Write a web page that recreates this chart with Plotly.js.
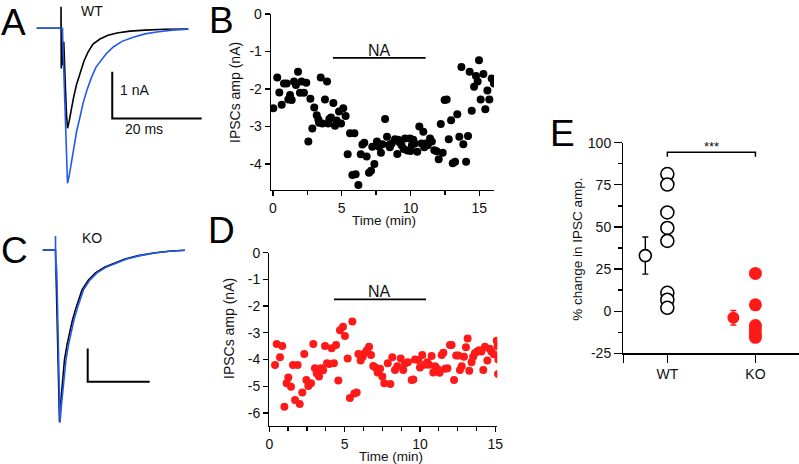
<!DOCTYPE html>
<html>
<head>
<meta charset="utf-8">
<script src="https://cdn.plot.ly/plotly-3.0.1.min.js"></script>
<style>
html,body{margin:0;padding:0;background:#fff;}
#fig{width:799px;height:464px;}
</style>
</head>
<body>
<div id="fig"></div>
<script>
var W=799, H=464;
var FONT='Liberation Sans, Arial, Helvetica, sans-serif';

// A: WT example IPSCs (ms, nA), black = control, blue = NA
var aTimeCtrl=[0,5.44,5.44,5.50,5.70,5.88,6.06,6.26,6.44,6.67,6.89,7.23,7.67,8.23,8.90,9.69,10.58,11.48,12.60,14.16,15.95,17.96,20.87,24.23,28.70,33.92];
var aCurCtrl=[0,0,0.46,-0.86,-0.25,-0.79,-0.29,-0.68,-1.32,-1.86,-2.14,-2.01,-1.75,-1.49,-1.21,-0.96,-0.70,-0.51,-0.34,-0.23,-0.15,-0.10,-0.06,-0.04,-0.02,-0.015];
var aTimeNA=[0,5.44,5.77,5.82,6.0,6.22,6.44,6.67,6.89,7.23,7.67,8.23,8.95,9.69,10.43,11.25,12.30,13.27,14.16,15.50,17.14,19.08,21.61,24.23,26.85,30.27,33.91];
var aCurNA=[0,0,0,-0.21,-0.68,-1.43,-2.18,-2.82,-3.32,-3.18,-2.93,-2.61,-2.20,-1.90,-1.58,-1.32,-1.04,-0.83,-0.72,-0.55,-0.40,-0.28,-0.19,-0.12,-0.08,-0.04,-0.02];

// C: KO example IPSCs
var cTimeCtrl=[0,4.13,4.29,5.10,5.42,5.90,6.39,7.03,7.84,8.65,9.61,10.74,12.68,14.77,17.03,20.10,23.16,26.55,30.90,35.74,40.58,45.90];
var cCurCtrl=[0,0,-0.60,-3.90,-5.17,-4.50,-3.96,-3.30,-2.85,-2.49,-2.10,-1.74,-1.20,-0.90,-0.69,-0.51,-0.39,-0.27,-0.17,-0.09,-0.04,-0.01];
var cTimeNA=[0,4.13,4.13,4.19,4.35,4.55,4.94,5.26,5.58,6.06,6.71,7.52,8.32,9.13,10.10,11.23,13.16,15.26,17.52,20.65,23.65,27.10,31.39,36.23,41.06,45.90];
var cCurNA=[0,0,0.42,-0.65,-0.36,-0.66,-2.40,-4.05,-5.19,-4.65,-3.99,-3.30,-2.85,-2.49,-2.10,-1.74,-1.20,-0.90,-0.69,-0.51,-0.39,-0.27,-0.17,-0.09,-0.04,-0.01];

// scale bars
var scaleMs=20, scaleNa=1;
var aBarCorner=[16.9,-1.93];
var cBarCorner=[14.52,-3.96];

// B: WT IPSC amplitude over time
var bTime=[0.02,0.31,0.46,0.63,0.8,1.0,1.11,1.24,1.36,1.53,
  1.67,1.82,1.96,2.08,2.25,2.42,2.57,2.72,2.86,3.0,
  3.18,3.3,3.35,3.47,3.59,3.78,3.93,4.02,4.1,4.22,
  4.39,4.51,4.63,4.8,4.95,5.11,5.28,5.43,5.6,5.77,
  5.92,6.01,6.21,6.38,6.5,6.64,6.81,6.98,7.13,7.22,
  7.37,7.56,7.71,7.85,7.95,8.15,8.29,8.44,8.5,8.63,
  8.87,9.04,9.1,9.2,9.35,9.5,9.6,9.77,9.96,10.0,
  10.1,10.2,10.3,10.49,10.64,10.8,10.93,11.0,11.1,11.25,
  11.42,11.55,11.73,11.9,12.05,12.2,12.34,12.48,12.63,12.78,
  12.95,13.07,13.24,13.4,13.55,13.7,13.84,14.04,14.18,14.3,
  14.45,14.62,14.76,14.88,14.98,15.1,15.3,15.44,15.59,15.73,
  15.9,16.07];
var bAmp=[-2.51,-1.69,-2.09,-2.42,-1.85,-1.85,-2.28,-2.16,-2.29,-1.80,
  -1.89,-1.54,-2.10,-1.80,-2.10,-1.83,-3.40,-2.26,-3.05,-2.49,
  -2.70,-2.81,-2.9,-1.69,-2.92,-2.28,-1.80,-2.92,-2.8,-2.76,
  -2.37,-2.98,-2.84,-2.6,-2.92,-2.51,-2.72,-3.74,-3.18,-4.29,
  -3.18,-4.27,-4.56,-3.74,-3.48,-3.43,-3.80,-4.23,-4.18,-3.54,
  -4.0,-3.40,-3.54,-3.70,-3.47,-2.8,-3.27,-3.49,-3.55,-3.45,
  -3.34,-3.73,-3.35,-3.42,-3.5,-3.6,-3.32,-3.64,-3.32,-3.65,
  -3.5,-3.35,-3.45,-3.67,-3.0,-3.45,-3.14,-3.55,-3.45,-3.5,
  -3.32,-3.4,-3.63,-3.66,-3.87,-2.93,-3.70,-2.29,-2.28,-3.34,
  -2.83,-3.98,-3.94,-2.67,-3.27,-1.41,-3.47,-3.94,-3.25,-1.54,
  -2.58,-1.94,-1.65,-1.80,-1.23,-2.28,-1.6,-2.54,-2.04,-2.28,
  -1.72,-1.85];
var bNA=[4.36,11.1], bNALevel=-1.17;

// D: KO IPSC amplitude over time
var dTime=[0.38,0.49,0.71,0.86,1.0,1.15,1.26,1.44,1.57,1.71,
  1.88,2.02,2.19,2.32,2.46,2.59,2.77,2.92,3.03,3.15,
  3.3,3.43,3.57,3.7,3.83,3.97,4.14,4.29,4.43,4.58,
  4.69,4.89,5.02,5.2,5.35,5.51,5.64,5.8,5.91,6.06,
  6.2,6.35,6.48,6.62,6.75,6.9,7.05,7.19,7.35,7.5,
  7.63,7.86,8.03,8.16,8.34,8.5,8.72,8.89,9.0,9.2,
  9.45,9.56,9.67,9.89,10.0,10.15,10.32,10.48,10.6,10.77,
  10.88,11.0,11.15,11.3,11.44,11.55,11.66,11.82,11.99,12.1,
  12.26,12.4,12.55,12.65,12.77,12.92,13.05,13.16,13.27,13.42,
  13.53,13.64,13.8,13.93,14.08,14.2,14.31,14.47,14.62,14.73,
  14.9,15.09,15.15,15.2,15.18];
var dAmp=[-4.21,-3.42,-3.92,-3.49,-5.77,-4.89,-4.67,-5.02,-4.21,-5.52,
  -4.21,-5.67,-5.24,-3.79,-4.77,-4.99,-4.89,-3.42,-4.33,-4.52,
  -4.64,-4.33,-4.4,-3.49,-4.14,-4.17,-3.58,-4.14,-3.46,-4.79,
  -2.9,-2.77,-3.12,-3.96,-5.44,-2.58,-5.27,-5.24,-3.79,-4.04,
  -3.9,-3.75,-3.65,-3.52,-3.83,-4.24,-4.3,-4.49,-4.35,-4.64,
  -4.89,-4.14,-4.92,-3.92,-4.39,-4.25,-3.96,-4.39,-4.15,-4.1,
  -4.77,-4.75,-4.0,-4.02,-4.3,-3.83,-4.2,-4.1,-4.2,-3.87,
  -4.49,-4.25,-4.35,-4.5,-3.83,-3.75,-4.35,-4.33,-3.46,-3.46,
  -4.77,-3.85,-3.85,-4.39,-4.25,-3.9,-3.54,-3.21,-4.42,-4.1,
  -3.9,-3.77,-3.7,-3.65,-3.7,-4.39,-3.52,-4.04,-3.6,-3.7,
  -3.8,-3.3,-3.5,-4.0,-4.54];
var dNA=[4.29,10.4], dNALevel=-1.75;

// E: % change in IPSC amplitude
var groups=['WT','KO'];
var groupPos=[1,3], meanPos=[0.5,2.5];
var wtPct=[81.4,75.2,58.6,49.4,41.7,10.9,6.8,2.0];
var koPct=[22.4,3.8,-8.5,-11,-13.5,-15.5];
var meanPct=[33,-3.9];
var semPct=[11,4.3];
var sigY=94.3, sigDrop=2.6;

var BLUE='#2459f0', RED='#ff1a1a';

function hx(a,b){return [a/W,b/W];}
function vy(top,bottom){return [1-bottom/H,1-top/H];}
function px(x){return x/W;}
function py(y){return 1-y/H;}
function rep(v,n){var a=[];for(var i=0;i<n;i++)a.push(v);return a;}

function plotAxis(extra){
  var ax={showline:true,linecolor:'#000',linewidth:1.3,ticks:'outside',ticklen:5,tickwidth:1.3,
    tickcolor:'#000',showgrid:false,zeroline:false,fixedrange:true,
    tickfont:{family:FONT,size:14,color:'#111'}};
  for(var k in extra) ax[k]=extra[k];
  return ax;
}
function hiddenAxis(extra){
  var ax={visible:false,fixedrange:true,showgrid:false,zeroline:false};
  for(var k in extra) ax[k]=extra[k];
  return ax;
}

var data=[
  // A
  {x:aTimeCtrl,y:aCurCtrl,xaxis:'x',yaxis:'y',mode:'lines',line:{color:'#000',width:1.6}},
  {x:aTimeNA,y:aCurNA,xaxis:'x',yaxis:'y',mode:'lines',line:{color:BLUE,width:1.6}},
  {x:[aBarCorner[0],aBarCorner[0],aBarCorner[0]+scaleMs],y:[aBarCorner[1]+scaleNa,aBarCorner[1],aBarCorner[1]],
    xaxis:'x',yaxis:'y',mode:'lines',line:{color:'#000',width:2}},
  // C
  {x:cTimeCtrl,y:cCurCtrl,xaxis:'x2',yaxis:'y2',mode:'lines',line:{color:'#000',width:1.6}},
  {x:cTimeNA,y:cCurNA,xaxis:'x2',yaxis:'y2',mode:'lines',line:{color:BLUE,width:1.6}},
  {x:[cBarCorner[0],cBarCorner[0],cBarCorner[0]+scaleMs],y:[cBarCorner[1]+scaleNa,cBarCorner[1],cBarCorner[1]],
    xaxis:'x2',yaxis:'y2',mode:'lines',line:{color:'#000',width:2}},
  // B
  {x:bTime,y:bAmp,xaxis:'x3',yaxis:'y3',mode:'markers',marker:{color:'#000',size:8}},
  {x:bNA,y:[bNALevel,bNALevel],xaxis:'x3',yaxis:'y3',mode:'lines',line:{color:'#000',width:1.8}},
  // D
  {x:dTime,y:dAmp,xaxis:'x4',yaxis:'y4',mode:'markers',marker:{color:RED,size:8}},
  {x:dNA,y:[dNALevel,dNALevel],xaxis:'x4',yaxis:'y4',mode:'lines',line:{color:'#000',width:1.8}},
  // E
  {x:rep(groupPos[0],wtPct.length),y:wtPct,xaxis:'x5',yaxis:'y5',mode:'markers',
    marker:{color:'#fff',size:13,line:{color:'#000',width:1.6}}},
  {x:rep(groupPos[1],koPct.length),y:koPct,xaxis:'x5',yaxis:'y5',mode:'markers',
    marker:{color:RED,size:13}},
  {x:[meanPos[0]],y:[meanPct[0]],xaxis:'x5',yaxis:'y5',mode:'markers',
    error_y:{type:'data',array:[semPct[0]],color:'#000',thickness:1.4,width:3},
    marker:{color:'#fff',size:12,line:{color:'#000',width:1.6}}},
  {x:[meanPos[1]],y:[meanPct[1]],xaxis:'x5',yaxis:'y5',mode:'markers',
    error_y:{type:'data',array:[semPct[1]],color:RED,thickness:1.4,width:3},
    marker:{color:RED,size:12}},
  {x:[groupPos[0],groupPos[0],groupPos[1],groupPos[1]],y:[sigY-sigDrop,sigY,sigY,sigY-sigDrop],
    xaxis:'x5',yaxis:'y5',mode:'lines',line:{color:'#000',width:1.5}}
];

function letter(t,x,y){
  return {text:t,xref:'paper',yref:'paper',x:px(x),y:py(y),xanchor:'center',yanchor:'middle',
    showarrow:false,font:{family:FONT,size:37,color:'#000'}};
}
function label(t,xr,yr,x,y,size,extra){
  var a={text:t,xref:xr,yref:yr,x:x,y:y,xanchor:'center',yanchor:'middle',showarrow:false,
    font:{family:FONT,size:size,color:'#111'}};
  for(var k in extra) a[k]=extra[k];
  return a;
}

var annotations=[
  letter('A',13.5,22), letter('B',221.5,20), letter('C',14.5,250), letter('D',221,231), letter('E',562.5,133),
  label('WT','x','y',12.3,0.36,14),
  label('1 nA','x','y',21.9,-1.33,14),
  label('20 ms','x','y',24.0,-2.15,14),
  label('KO','x2','y2',15.9,0.36,14),
  label('NA','x3','y3',(bNA[0]+bNA[1])/2,bNALevel,16,{yanchor:'bottom',yshift:-3}),
  label('NA','x4','y4',(dNA[0]+dNA[1])/2,dNALevel,16,{yanchor:'bottom',yshift:-3}),
  label('***','x5','y5',(groupPos[0]+groupPos[1])/2,sigY,13,{yanchor:'bottom',yshift:-4}),
  label('IPSCs amp (nA)','paper','paper',px(235),py(93),14,{textangle:-90}),
  label('Time (min)','paper','paper',px(384),py(220),13.5),
  label('IPSCs amp (nA)','paper','paper',px(228.3),py(328.7),14,{textangle:-90}),
  label('Time (min)','paper','paper',px(391),py(456.5),13.5),
  label('% change in IPSC amp.','paper','paper',px(576.7),py(249),13.5,{textangle:-90})
];

var layout={
  width:W,height:H,margin:{l:0,r:0,t:0,b:0},
  paper_bgcolor:'#fff',plot_bgcolor:'rgba(0,0,0,0)',showlegend:false,
  font:{family:FONT,color:'#111'},
  xaxis:hiddenAxis({domain:hx(0,210),range:[-8.21,38.77],anchor:'y'}),
  yaxis:hiddenAxis({domain:vy(0,200),range:[-3.677,0.606],anchor:'x'}),
  xaxis2:hiddenAxis({domain:hx(0,210),range:[-13.77,53.97],anchor:'y2'}),
  yaxis2:hiddenAxis({domain:vy(225,440),range:[-5.71,0.75],anchor:'x2'}),
  xaxis3:plotAxis({domain:hx(271,494),range:[-0.145,16.07],anchor:'y3',tickmode:'array',
    tickvals:[0,5,10,15],ticktext:['0','5','10','15'],
    minor:{tickmode:'array',tickvals:[2.5,7.5,12.5],ticks:'outside',ticklen:4,tickwidth:1.3,tickcolor:'#000'}}),
  yaxis3:plotAxis({domain:vy(14,190),range:[-4.69,0],anchor:'x3',tickmode:'array',
    tickvals:[0,-1,-2,-3,-4],ticktext:['0','-1','-2','-3','-4']}),
  xaxis4:plotAxis({domain:hx(269.3,497.3),range:[0,15.13],anchor:'y4',tickmode:'array',
    tickvals:[0,5,10,15],ticktext:['0','5','10','15'],
    minor:{tickmode:'array',tickvals:[1.25,2.5,3.75,6.25,7.5,8.75,11.25,12.5,13.75],ticks:'outside',ticklen:4,tickwidth:1.3,tickcolor:'#000'}}),
  yaxis4:plotAxis({domain:vy(252.7,426),range:[-6.49,0],anchor:'x4',tickmode:'array',
    tickvals:[0,-1,-2,-3,-4,-5,-6],ticktext:['0','-1','-2','-3','-4','-5','-6']}),
  xaxis5:plotAxis({domain:hx(623.3,799),range:[0,3.99],anchor:'y5',tickmode:'array',
    tickvals:[0,groupPos[0],groupPos[1]],ticktext:['',groups[0],groups[1]],ticklen:8}),
  yaxis5:plotAxis({domain:vy(142.7,353.3),range:[-25,100],anchor:'x5',tickmode:'array',ticklen:8,
    tickvals:[100,75,50,25,0,-25],ticktext:['100','75','50','25','0','-25'],
    minor:{tickmode:'array',tickvals:[87.5,62.5,37.5,12.5,-12.5],ticks:'outside',ticklen:4,tickwidth:1.3,tickcolor:'#000'}}),
  annotations:annotations
};

Plotly.newPlot('fig',data,layout,{staticPlot:true,displayModeBar:false});
</script>
</body>
</html>
